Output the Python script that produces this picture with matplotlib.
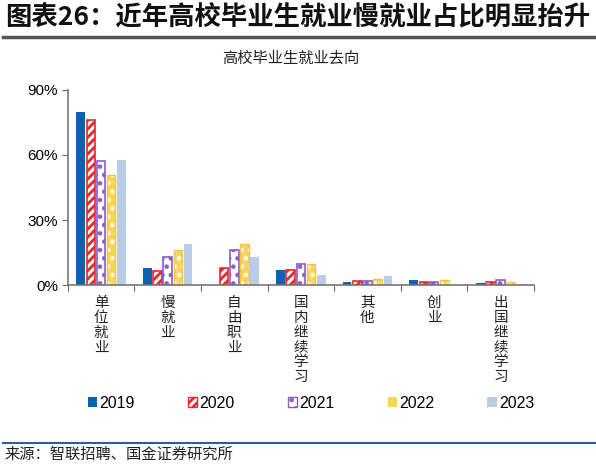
import matplotlib
matplotlib.use('Agg')
import matplotlib.pyplot as plt
import numpy as np
from matplotlib.patches import Patch
from matplotlib.lines import Line2D

plt.rcParams['font.family'] = ['Noto Sans CJK SC', 'DejaVu Sans']
plt.rcParams['hatch.linewidth'] = 2.0

categories = ['单位就业', '慢就业', '自由职业', '国内继续学习', '其他', '创业', '出国继续学习']
years = ['2019', '2020', '2021', '2022', '2023']
v2019 = [80.0, 8.0, 0.0, 7.0, 1.2, 2.3, 1.1]
v2020 = [76.0, 6.3, 8.0, 7.0, 2.0, 1.4, 1.2]
v2021 = [57.0, 13.0, 16.0, 9.5, 1.8, 1.5, 2.1]
v2022 = [50.6, 16.0, 18.9, 9.5, 2.8, 2.1, 1.5]
v2023 = [57.7, 18.9, 13.0, 4.8, 4.0, 0.2, 0.3]
yticks = [0, 30, 60, 90]

c_blue = '#0b62ad'
c_red = '#e8262c'
c_purple = '#8a5cc7'
c_yellow = '#f8d45c'
c_light = '#b9cde5'

fig = plt.figure(figsize=(5.96, 4.67), dpi=100)
ax = fig.add_axes([0.1136, 0.3897, 0.7824, 0.4176])

x = np.arange(len(categories))
step = 0.153
w = 0.128
off = (np.arange(5) - 2) * step

ax.bar(x + off[0], v2019, w, color=c_blue, linewidth=0)
ax.bar(x + off[1], v2020, w, facecolor='white', edgecolor=c_red, hatch='////', linewidth=1.2)
ax.bar(x + off[2], v2021, w, facecolor='white', edgecolor=c_purple, hatch='..', linewidth=1.2)
ax.bar(x + off[3], v2022, w, facecolor=c_yellow, edgecolor='white', hatch='..', linewidth=0)
ax.bar(x + off[3], v2022, w, facecolor='none', edgecolor='#f0c544', linewidth=1.0)
ax.bar(x + off[4], v2023, w, color=c_light, linewidth=0)

ax.set_xlim(-0.5, len(categories) - 0.5)
ax.set_ylim(0, 90)
ax.set_yticks(yticks)
ax.set_yticklabels(['%d%%' % t for t in yticks], fontsize=11, family='Liberation Sans')
ax.set_xticks(np.arange(len(categories) + 1) - 0.5)
ax.set_xticklabels([])
ax.tick_params(axis='x', direction='out', length=4, color='#666666')
ax.tick_params(axis='y', direction='out', length=4, color='#666666', pad=3)
for s in ['top', 'right']:
    ax.spines[s].set_visible(False)
for s in ['left', 'bottom']:
    ax.spines[s].set_color('#777777')
    ax.spines[s].set_linewidth(1.2)

for i, c in enumerate(categories):
    ax.text(i, -5.0, '\n'.join(c), ha='center', va='top', fontsize=10.5,
            color='#222222', linespacing=1.08)

# legend
handles = [
    Patch(facecolor=c_blue, linewidth=0),
    Patch(facecolor='white', edgecolor=c_red, hatch='////', linewidth=1),
    Patch(facecolor='white', edgecolor=c_purple, hatch='..', linewidth=1),
    Patch(facecolor=c_yellow, linewidth=0),
    Patch(facecolor=c_light, linewidth=0),
]
fig.legend(handles, years, loc='center', bbox_to_anchor=(0.522, 0.137), ncol=5,
           frameon=False, handlelength=0.6, handleheight=0.6, handletextpad=0.15,
           columnspacing=3.3, prop={'family': 'Liberation Sans', 'size': 11.5})

fig.text(0.008, 0.963, '图表26：近年高校毕业生就业慢就业占比明显抬升', fontsize=19,
         fontweight='bold', style='italic', va='center', ha='left', color='#111111')
fig.add_artist(Line2D([0.005, 1.0], [0.921, 0.921], color='#555555', linewidth=2.5))
fig.text(0.487, 0.876, '高校毕业生就业去向', fontsize=11, ha='center', va='center', color='#222222')
fig.add_artist(Line2D([0.005, 1.0], [0.051, 0.051], color='#2a5f9a', linewidth=1.5))
fig.text(0.008, 0.027, '来源：智联招聘、国金证券研究所', fontsize=11, va='center', ha='left', color='#222222')

fig.savefig('out.png', dpi=100)
